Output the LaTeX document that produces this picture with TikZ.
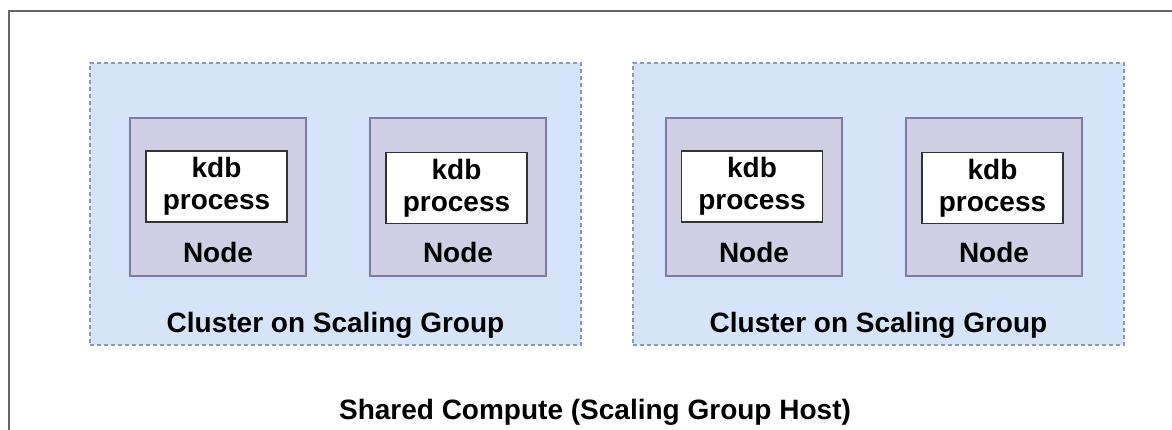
\documentclass[tikz,border=0pt]{standalone}
\usepackage{fontspec}
\setmainfont{Liberation Sans}
\definecolor{clusterfill}{HTML}{D6E4F9}
\definecolor{clusterline}{HTML}{8799B5}
\definecolor{nodefill}{HTML}{D0CFE3}
\definecolor{nodeline}{HTML}{7D7AA8}
\definecolor{hostline}{HTML}{666666}
\begin{document}
\begin{tikzpicture}[x=0.5pt,y=-0.5pt,
  every node/.style={font=\fontsize{14}{16}\selectfont\bfseries,inner sep=0pt},
  hostbox/.style={draw=hostline,line width=1pt,minimum width=590.5pt,minimum height=219.5pt},
  clusterbox/.style={draw=clusterline,fill=clusterfill,line width=0.7pt,dash pattern=on 2pt off 1.5pt,minimum width=245.5pt,minimum height=141pt},
  nodebox/.style={draw=nodeline,fill=nodefill,line width=0.7pt,minimum width=88pt,minimum height=79pt},
  kdbbox/.style={draw=black!80,fill=white,line width=0.9pt,minimum width=70.5pt,minimum height=35.5pt,align=center}]
\clip (0,0) rectangle (1172,429);
\node[hostbox] (host) at (599.5,230.5) {};
\node[anchor=base] (hostlabel) at (595,419) {Shared Compute (Scaling Group Host)};
% first scaling group
\node[clusterbox] (cl1) at (335.5,204) {};
\node[anchor=base] (cl1label) at (335.5,332) {Cluster on Scaling Group};
\node[nodebox] (n1) at (218,197) {};
\node[kdbbox] (kdb1) at (216.5,186.5) {kdb\\process};
\node[anchor=base] (n1label) at (218,262) {Node};
\node[nodebox] (n2) at (458,197) {};
\node[kdbbox] (kdb2) at (456.5,188) {kdb\\process};
\node[anchor=base] (n2label) at (458,262) {Node};
% second scaling group
\node[clusterbox] (cl2) at (878.5,204) {};
\node[anchor=base] (cl2label) at (878.5,332) {Cluster on Scaling Group};
\node[nodebox] (n3) at (754,197) {};
\node[kdbbox] (kdb3) at (752,186.5) {kdb\\process};
\node[anchor=base] (n3label) at (754,262) {Node};
\node[nodebox] (n4) at (994,197) {};
\node[kdbbox] (kdb4) at (992.5,188) {kdb\\process};
\node[anchor=base] (n4label) at (994,262) {Node};
\end{tikzpicture}
\end{document}
